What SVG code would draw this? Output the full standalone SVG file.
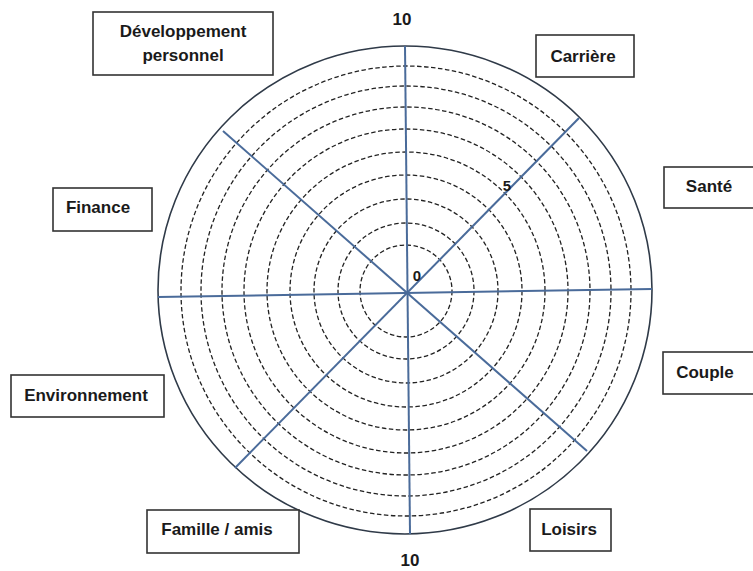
<svg xmlns="http://www.w3.org/2000/svg" width="753" height="571" viewBox="0 0 753 571">
<style>
.box{fill:#fff;stroke:#333;stroke-width:1.6}
.lbl{font-family:"Liberation Sans",Arial,sans-serif;font-weight:bold;font-size:17px;fill:#1a1a1a;text-anchor:middle}
.ring{fill:none;stroke:#222;stroke-width:1.3;stroke-dasharray:4.5 2.5}
.axis{stroke:#4a6b9a;stroke-width:2;fill:none}
.outer{fill:none;stroke:#2f3a48;stroke-width:1.6}
</style>
<rect width="753" height="571" fill="#fff"/>
<g id="wheel">
<ellipse class="outer" cx="405" cy="290" rx="247" ry="244"/>
<g id="rings">
<circle class="ring" cx="406" cy="291" r="46"/>
<circle class="ring" cx="406" cy="291" r="68"/>
<circle class="ring" cx="406" cy="291" r="92"/>
<circle class="ring" cx="406" cy="291" r="116"/>
<circle class="ring" cx="406" cy="291" r="139"/>
<circle class="ring" cx="406" cy="291" r="162"/>
<circle class="ring" cx="406" cy="291" r="184"/>
<circle class="ring" cx="406" cy="291" r="205"/>
<circle class="ring" cx="406" cy="291" r="225"/>
</g>
</g>
<g id="connectors">
<line class="axis" x1="405" y1="46" x2="410" y2="534"/>
<line class="axis" x1="158" y1="297" x2="652" y2="289"/>
<line class="axis" x1="579" y1="118" x2="235" y2="468"/>
<line class="axis" x1="223" y1="131" x2="587" y2="451"/>
</g>
<g id="scale">
<text class="lbl" x="402" y="25">10</text>
<text class="lbl" x="410" y="566">10</text>
<text class="lbl" x="417" y="281" style="font-size:15px">0</text>
<text class="lbl" x="507" y="191" style="font-size:15px">5</text>
</g>
<g id="dev">
<rect class="box" x="93" y="12" width="180" height="63"/>
<text class="lbl" x="183" y="37">Développement</text>
<text class="lbl" x="183" y="61">personnel</text>
</g>
<g id="carriere">
<rect class="box" x="536" y="35" width="98" height="42"/>
<text class="lbl" x="583" y="62">Carrière</text>
</g>
<g id="sante">
<rect class="box" x="664" y="167" width="100" height="41"/>
<text class="lbl" x="709" y="192">Santé</text>
</g>
<g id="couple">
<rect class="box" x="663" y="352" width="100" height="42"/>
<text class="lbl" x="705" y="378">Couple</text>
</g>
<g id="loisirs">
<rect class="box" x="530" y="509" width="81" height="42"/>
<text class="lbl" x="569" y="535">Loisirs</text>
</g>
<g id="famille">
<rect class="box" x="147" y="510" width="152" height="43"/>
<text class="lbl" x="217" y="535">Famille / amis</text>
</g>
<g id="environnement">
<rect class="box" x="11" y="375" width="153" height="42"/>
<text class="lbl" x="86" y="401">Environnement</text>
</g>
<g id="finance">
<rect class="box" x="53" y="188" width="99" height="43"/>
<text class="lbl" x="98" y="213">Finance</text>
</g>
</svg>
